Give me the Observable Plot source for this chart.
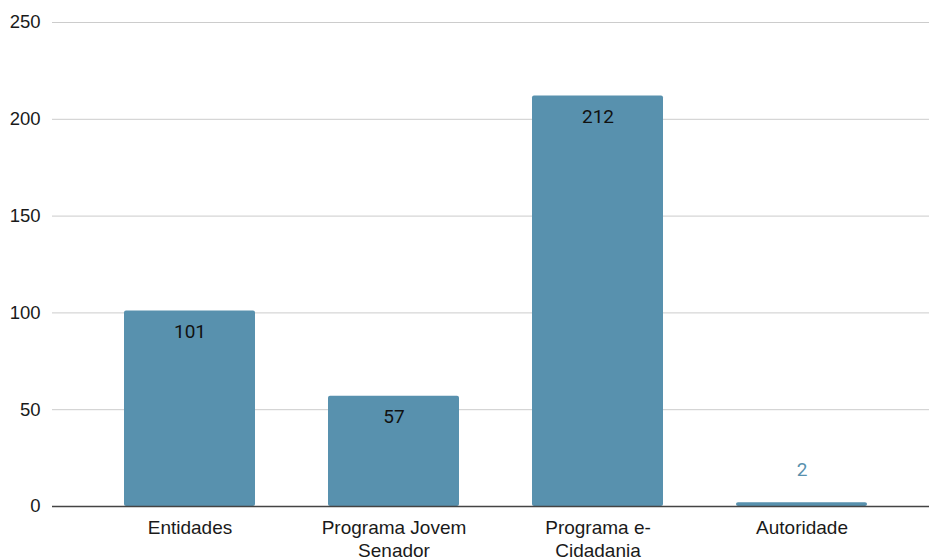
<!DOCTYPE html>
<html>
<head>
<meta charset="utf-8">
<script src="https://cdn.jsdelivr.net/npm/d3@7"></script>
<script src="https://cdn.jsdelivr.net/npm/@observablehq/plot@0.6"></script>
<style>
body { margin: 0; background: #fff; }
</style>
</head>
<body>
<div id="chart"></div>
<script>
const categories = ["Entidades", "Programa Jovem\nSenador", "Programa e-\nCidadania", "Autoridade"];
const values = [101, 57, 212, 2];
const yTicks = [0, 50, 100, 150, 200, 250];

const data = categories.map((c, i) => ({category: c, value: values[i]}));
const inside = data.filter(d => d.value >= 20);
const outside = data.filter(d => d.value < 20);
const barColor = "#5891ae";

const chart = Plot.plot({
  width: 929,
  height: 560,
  marginLeft: 52,
  marginRight: 0,
  marginTop: 22,
  marginBottom: 54,
  style: {fontFamily: "'Liberation Sans', Arial, sans-serif", fontSize: "18px", color: "#1a1a1a", background: "#fff"},
  x: {domain: categories, paddingInner: 0.356, paddingOuter: 0, range: [122, 869], label: null},
  y: {domain: [0, 250], label: null},
  marks: [
    Plot.gridY(yTicks, {stroke: "#cccccc", strokeOpacity: 1, strokeWidth: 1}),
    Plot.barY(data, {x: "category", y: "value", fill: barColor, rx: 2}),
    Plot.ruleY([0], {stroke: "#444", strokeWidth: 1.5}),
    Plot.axisY({ticks: yTicks, tickSize: 0, tickPadding: 12, fontSize: 18.5, label: null}),
    Plot.axisX({tickSize: 0, tickPadding: 12, fontSize: 19, label: null, lineHeight: 1.17}),
    Plot.text(inside, {x: "category", y: "value", text: d => String(d.value), dy: 21, fill: "#111", fontFamily: "Roboto, sans-serif", fontSize: 19}),
    Plot.text(outside, {x: "category", y: "value", text: d => String(d.value), dy: -33, fill: barColor, fontFamily: "Roboto, sans-serif", fontSize: 19})
  ]
});
document.getElementById("chart").appendChild(chart);
</script>
</body>
</html>
